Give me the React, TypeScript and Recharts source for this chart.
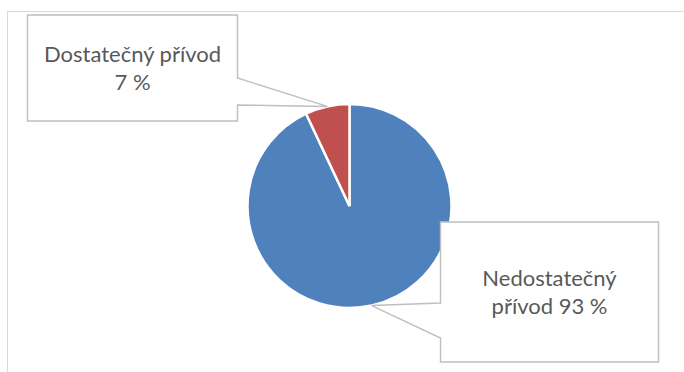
import { PieChart, Pie, Cell } from "recharts"

const categories = ["Nedostatečný přívod", "Dostatečný přívod"]
const values = [93, 7]
const labelLines = [
  ["Nedostatečný", "přívod 93 %"],
  ["Dostatečný přívod", "7 %"],
]

const COLORS = ["#4f81bd", "#c0504d"] // blue, red

const data = categories.map((name, i) => ({ name, value: values[i] }))

// callout boxes, placed relative to the pie centre
const CALLOUTS = [
  { dx: 91, dy: 16, w: 218, h: 140, side: "left", b0: 81, b1: 116 },
  { dx: -322, dy: -191, w: 210, h: 106, side: "right", b0: 63, b1: 90 },
]

const RAD = Math.PI / 180

function renderCallout(props: any) {
  const { cx, cy, midAngle, outerRadius, index } = props
  const c = CALLOUTS[index]
  const tx = cx + outerRadius * Math.cos(-midAngle * RAD)
  const ty = cy + outerRadius * Math.sin(-midAngle * RAD)
  const L = cx + c.dx
  const T = cy + c.dy
  const R = L + c.w
  const B = T + c.h
  const d =
    c.side === "right"
      ? `M${L},${T} H${R} V${T + c.b0} L${tx},${ty} L${R},${T + c.b1} V${B} H${L} Z`
      : `M${L},${T} H${R} V${B} H${L} V${T + c.b1} L${tx},${ty} L${L},${T + c.b0} Z`
  const lines = labelLines[index]
  const midX = L + c.w / 2
  const midY = T + c.h / 2
  const step = 28.5
  return (
    <g key={`callout-${index}`}>
      <path d={d} fill="#fff" stroke="#bfbfbf" strokeWidth={1.4} />
      {lines.map((t, i) => (
        <text
          key={i}
          x={midX}
          y={midY + (i - (lines.length - 1) / 2) * step + 8}
          textAnchor="middle"
          fill="#595959"
          fontSize={22}
          fontFamily="Lato, 'Open Sans', sans-serif"
        >
          {t}
        </text>
      ))}
    </g>
  )
}

export default function App() {
  return (
    <div
      style={{
        position: "absolute",
        left: 0,
        top: 0,
        width: 684,
        height: 372,
        overflow: "hidden",
        background: "#fff",
      }}
    >
      <div
        style={{
          position: "absolute",
          left: 7,
          top: 11,
          width: 720,
          height: 420,
          border: "1px solid #d9d9d9",
        }}
      />
      <div style={{ position: "absolute", left: 0, top: 0 }}>
        <PieChart width={684} height={372} margin={{ top: 0, right: 0, bottom: 0, left: 0 }}>
          <Pie
            data={data}
            dataKey="value"
            nameKey="name"
            cx={349.5}
            cy={206}
            outerRadius={102}
            startAngle={90}
            endAngle={-270}
            stroke="#fff"
            strokeWidth={2.5}
            label={renderCallout}
            labelLine={false}
            isAnimationActive={false}
          >
            {data.map((entry, index) => (
              <Cell key={`cell-${index}`} fill={COLORS[index % COLORS.length]} />
            ))}
          </Pie>
        </PieChart>
      </div>
    </div>
  )
}
